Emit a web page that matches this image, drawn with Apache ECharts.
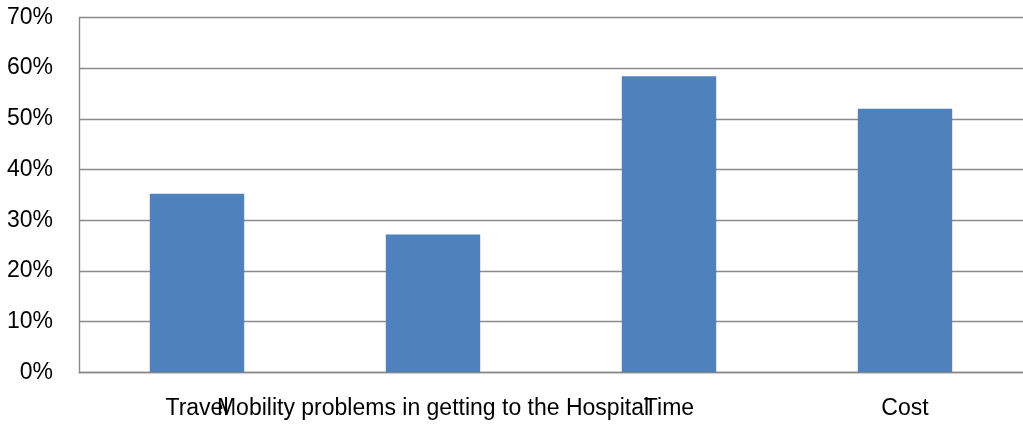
<!DOCTYPE html>
<html>
<head>
<meta charset="utf-8">
<script src="https://cdn.jsdelivr.net/npm/echarts@6/dist/echarts.min.js"></script>
<style>
  html, body { margin: 0; padding: 0; background: #ffffff; }
  #chart { width: 1023px; height: 428px; }
</style>
</head>
<body>
<div id="chart"></div>
<script>
// Reasons given for difficulty reaching the hospital (share of respondents, %)
const categories = ['Travel', 'Mobility problems in getting to the Hospital', 'Time', 'Cost'];
const shares = [35.2, 27.2, 58.4, 52.0];
const yTicks = [0, 10, 20, 30, 40, 50, 60, 70];

const gridGray = '#8a8a8a';
const textStyle = { fontFamily: 'Liberation Sans', fontSize: 23, color: '#000000' };

const chart = echarts.init(document.getElementById('chart'), null, { renderer: 'canvas' });
chart.setOption({
  animation: false,
  backgroundColor: '#ffffff',
  grid: { left: 79, right: 0, top: 17.4, bottom: 55.7, containLabel: false },
  xAxis: {
    type: 'category',
    data: categories,
    axisLine: { show: true, lineStyle: { color: gridGray, width: 1.4 } },
    axisTick: { show: false },
    axisLabel: Object.assign({ interval: 0, margin: 25, hideOverlap: false }, textStyle),
    splitLine: { show: false }
  },
  yAxis: {
    type: 'value',
    min: yTicks[0],
    max: yTicks[yTicks.length - 1],
    interval: 10,
    axisLine: { show: true, lineStyle: { color: gridGray, width: 1.4 } },
    axisTick: { show: false },
    axisLabel: Object.assign({ margin: 26, formatter: v => v + '%' }, textStyle),
    splitLine: { show: true, lineStyle: { color: gridGray, width: 1.4 } }
  },
  series: [{
    type: 'bar',
    data: shares,
    barWidth: '40%',
    itemStyle: { color: '#4F81BD' }
  }]
});
</script>
</body>
</html>
